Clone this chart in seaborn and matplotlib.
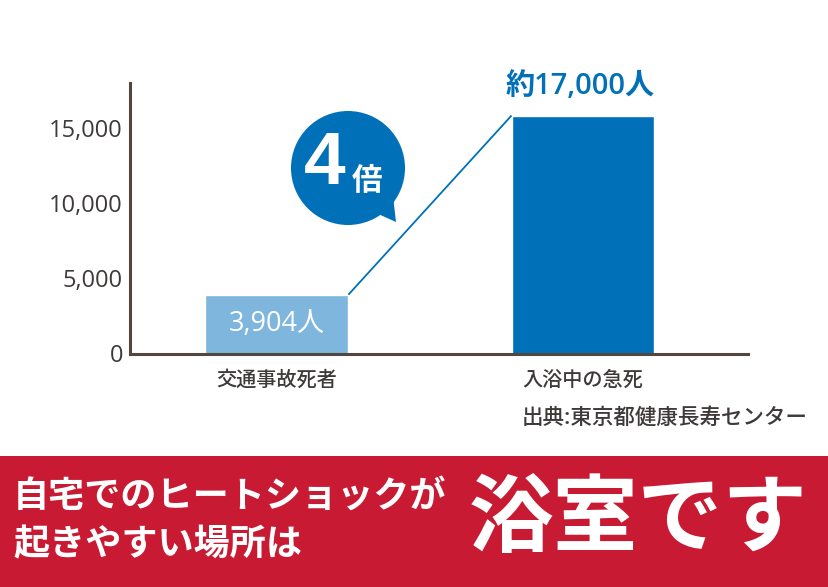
import matplotlib
matplotlib.use('Agg')
import matplotlib.pyplot as plt
import seaborn as sns
from matplotlib.patches import Circle, Polygon, Rectangle

# data
categories = ['交通事故死者', '入浴中の急死']
deaths = [3904, 15800]
value_labels = ['3,904人', '約17,000人']
y_ticks = [0, 5000, 10000, 15000]
source = '出典:東京都健康長寿センター'
banner_lines = ['自宅でのヒートショックが', '起きやすい場所は']
banner_big = '浴室です'

bar_colors = ['#7fb6dd', '#0070b9']
blue = '#0070b9'
axis_col = '#52473f'
text_col = '#3e3a39'
red = '#c81a33'
num_font = ['Open Sans', 'Noto Sans CJK JP']

sns.set_style('white')
plt.rcParams['font.family'] = ['Noto Sans CJK JP', 'DejaVu Sans']

W, H = 829, 587
fig = plt.figure(figsize=(W / 100, H / 100), dpi=100)
fig.patch.set_facecolor('white')

# main bar chart
ax = fig.add_axes([130 / W, 1 - 353.5 / H, (748 - 130) / W, (353.5 - 83) / H])
bw = 0.467
sns.barplot(x=categories, y=deaths, hue=categories, palette=bar_colors,
            width=bw, saturation=1, legend=False, ax=ax)
ax.set_xlim(-0.48, 1.539)
ax.set_ylim(0, 17960)
ax.set_xlabel('')
ax.set_ylabel('')

ax.set_yticks(y_ticks)
ax.set_yticklabels([f'{v:,}' for v in y_ticks], family=num_font,
                   fontweight='medium')
ax.tick_params(axis='y', direction='in', length=9, width=2.2, color=axis_col,
               labelsize=17, labelcolor=text_col, pad=5)
ax.tick_params(axis='x', length=0, labelsize=14.5, labelcolor=text_col, pad=12)
for lab in ax.get_xticklabels():
    lab.set_fontweight('medium')
for side in ['top', 'right']:
    ax.spines[side].set_visible(False)
for side in ['left', 'bottom']:
    ax.spines[side].set_color(axis_col)
    ax.spines[side].set_linewidth(2.2)

# connector line between bar tops
ax.plot([0 + bw / 2, 1 - bw / 2], [deaths[0], deaths[1]], color=blue, lw=1.3,
        solid_capstyle='butt', zorder=3)

ax.text(0, deaths[0] / 2, value_labels[0], ha='center', va='center',
        color='white', fontsize=19.5, family=num_font)
ax.annotate(value_labels[1], xy=(1, deaths[1]), xytext=(-2, 21),
            textcoords='offset points', ha='center', va='center',
            color=blue, fontsize=21, fontweight='semibold', family=num_font)

# overlay in pixel coordinates for the decorations
ov = fig.add_axes([0, 0, 1, 1], zorder=5)
ov.set_xlim(0, W)
ov.set_ylim(H, 0)
ov.axis('off')

# speech bubble
ov.add_patch(Circle((348, 168), 57, color=blue, lw=0))
ov.add_patch(Polygon([(376, 213), (396, 222), (393, 196)], closed=True,
                     color=blue, lw=0))
ov.text(325, 164, '4', ha='center', va='center', color='white',
        fontsize=54, fontweight='bold', family=['Liberation Sans'])
ov.text(367, 181, '倍', ha='center', va='center', color='white',
        fontsize=22, fontweight='bold')

ov.text(808, 418, source, ha='right', va='center', color=text_col,
        fontsize=15.5, fontweight='medium')

# red banner
ov.add_patch(Rectangle((0, 456), W, H - 456, color=red, lw=0))
ov.text(13, 497, banner_lines[0], ha='left', va='center', color='white',
        fontsize=26, fontweight='bold')
ov.text(13, 545, banner_lines[1], ha='left', va='center', color='white',
        fontsize=26, fontweight='bold')
ov.text(638, 520, banner_big, ha='center', va='center', color='white',
        fontsize=61, fontweight='bold')

fig.savefig('out.png', dpi=100)
